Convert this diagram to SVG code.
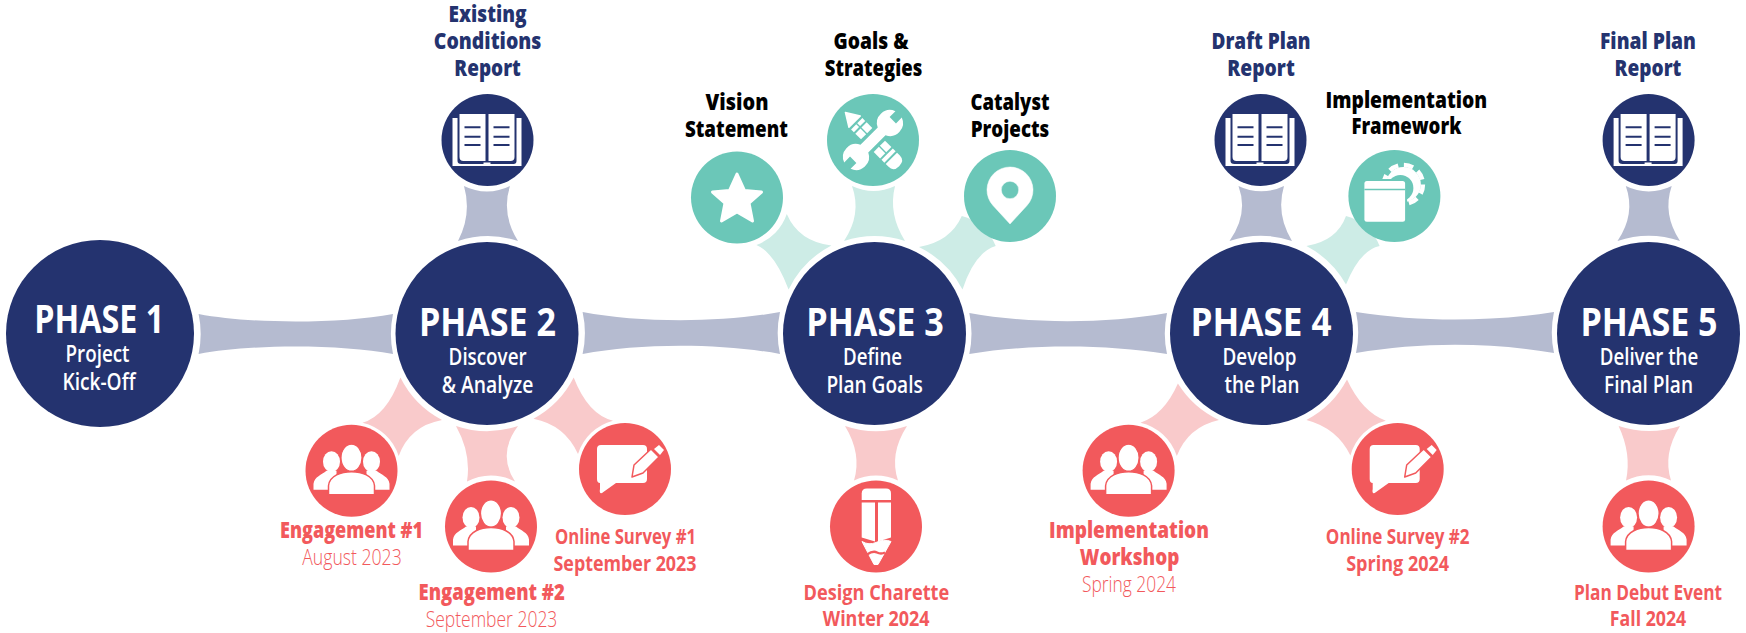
<svg xmlns="http://www.w3.org/2000/svg" xmlns:xlink="http://www.w3.org/1999/xlink" width="1746" height="633" viewBox="0 0 1746 633">
<style>
text{font-family:"Open Sans","Noto Sans","Liberation Sans",sans-serif;text-anchor:middle}
.t{font-size:39px;font-weight:700;fill:#fff}
.s{font-size:23px;font-weight:600;fill:#fff}
.h{font-size:22px;font-weight:800}
.m{font-size:22px;font-weight:700}
.l{font-size:22px;font-weight:300}
.navy{fill:#24336f}.coral{fill:#f2595c}.teal{fill:#6bc7b8}.k{fill:#000}
.cg{fill:#b5bbd0}.cp{fill:#f9cacb}.ct{fill:#cdece6}
</style>
<defs>
<g id="book">
<path d="M-35,-22H-30V21Q-30,24 -26,24H-2V26H-4V22.500H3V26H1V24H26Q29,24 29,21V-22H34V26H-35Z" fill="#fff"/>
<path d="M-28,-26H-2V21H-24Q-28,21 -28,17Z M1,-26H27V17Q27,21 23,21H1Z" fill="#fff"/>
<path d="M-23,-12.700H-7M-23,-3.300H-7M-23,5H-7M6,-12.700H22M6,-3.300H22M6,5H22" stroke="#24336f" stroke-width="2" fill="none"/>
</g>
<g id="people" fill="#fff">
<ellipse cx="-20" cy="-9" rx="8.500" ry="10.500"/><ellipse cx="20" cy="-9" rx="8.500" ry="10.500"/>
<path d="M-38,19V13C-37,6 -30,4 -25,0L-15,0V19Z M38,19V13C37,6 30,4 25,0L15,0V19Z"/>
<ellipse cx="0" cy="-13" rx="10.500" ry="13.500" stroke="#f2595c" stroke-width="1.200"/>
<path d="M-23,24V15C-22,5 -10,1 0,1C10,1 22,5 23,15V24Z" stroke="#f2595c" stroke-width="1.500"/>
</g>
<g id="survey">
<path d="M-24,-24H18Q22,-24 22,-20V10Q22,14 18,14H-9L-23,24Q-26,25 -25,20V14Q-28,14 -28,10V-20Q-28,-24 -24,-24Z" fill="#fff"/>
<path d="M7,8L9,-4L26,-20L34,-12L18,4Z" fill="#fff" stroke="#f2595c" stroke-width="1.500" stroke-linejoin="round"/>
<path d="M29,-20L34,-24L39,-19L35,-14Z" fill="#fff"/>
</g>
</defs>
<rect width="1746" height="633" fill="#fff"/>
<g id="connectors">
<path class="cg" d="M198.600,314C250,324 340,324 393,314A97 97 0 0 0 393,354C340,344 250,344 198.600,354A98 98 0 0 0 198.600,314Z"/>
<path class="cg" d="M582.600,312C640,323 720,323 780,312A97 97 0 0 0 780,354C720,343 640,343 582.600,354A97 97 0 0 0 582.600,312Z"/>
<path class="cg" d="M969.300,313C1030,324 1105,324 1167,313A97 97 0 0 0 1167,354C1105,344 1030,344 969.300,354A97 97 0 0 0 969.300,313Z"/>
<path class="cg" d="M1356,312C1420,322 1490,322 1554,312A97 97 0 0 0 1554,353C1490,342 1420,342 1356,353A97 97 0 0 0 1356,312Z"/>
<path class="cg" d="M464,186A51 51 0 0 0 510,186Q501,214 518,241A97 97 0 0 0 458,241Q472,214 464,186Z"/>
<path class="cg" d="M1238.500,186A51 51 0 0 0 1284,186Q1275.600,214 1292,241A97 97 0 0 0 1229.500,241Q1248.800,214 1238.500,186Z"/>
<path class="cg" d="M1625.800,186A51 51 0 0 0 1671.700,186Q1662.200,214 1680,241A97 97 0 0 0 1617.500,241Q1635.800,214 1625.800,186Z"/>
<path class="ct" d="M852,186A51 51 0 0 0 895,186Q888,214 905,241A97 97 0 0 0 844,241Q862,214 852,186Z"/>
<path class="ct" d="M788.600,289.500A97 97 0 0 1 831.400,245.500Q798.500,241.500 786.800,214A50 50 0 0 1 756.400,245Q774.500,252.500 788.600,289.500Z"/>
<path class="ct" d="M919,247A97 97 0 0 1 962.500,289.500Q974.500,252.500 995.700,246A50 50 0 0 0 961.800,216Q950.500,241.500 919,247Z"/>
<path class="ct" d="M1306.400,246A97 97 0 0 1 1346,284.600Q1360,250 1379.600,246A50 50 0 0 0 1346,216Q1337,241 1306.400,246Z"/>
<path class="cp" d="M400.400,377.500A97 97 0 0 0 442,420Q409.600,426 398.700,456A50 50 0 0 0 362.500,422.700Q386.500,415.900 400.400,377.500Z"/>
<path class="cp" d="M573.700,377.500A97 97 0 0 1 533.500,418.700Q565,425 578,454A50 50 0 0 1 613,420.700Q588,414.500 573.700,377.500Z"/>
<path class="cp" d="M456,426A97 97 0 0 0 518,426Q497,454 515,481.500A51 51 0 0 0 467,481.500Q471.500,454 456,426Z"/>
<path class="cp" d="M845,426A97 97 0 0 0 907,426Q889,454 898,480.500A51 51 0 0 0 854,480.500Q862,454 845,426Z"/>
<path class="cp" d="M1618.600,426A97 97 0 0 0 1680,426Q1662.500,454 1671,480.500A51 51 0 0 0 1626,480.500Q1631.700,454 1618.600,426Z"/>
<path class="cp" d="M1177.900,383.500A97 97 0 0 0 1219,420Q1188,427 1176.800,456A50 50 0 0 0 1140.400,422.700Q1164,415 1177.900,383.500Z"/>
<path class="cp" d="M1347,379.500A97 97 0 0 1 1306.400,420Q1337,428 1350.400,455.400A50 50 0 0 1 1385.800,420.700Q1362,412 1347,379.500Z"/>
</g>
<g id="phase-1"><ellipse class="navy" cx="100" cy="333.500" rx="94" ry="93.500"/>
<text class="t" x="99.300" y="333" textLength="130" lengthAdjust="spacingAndGlyphs">PHASE 1</text>
<text class="s" x="97.500" y="362" textLength="64" lengthAdjust="spacingAndGlyphs">Project</text>
<text class="s" x="99" y="389.500" textLength="73" lengthAdjust="spacingAndGlyphs">Kick-Off</text></g>
<g id="phase-2"><circle class="navy" cx="487" cy="333.500" r="91.500"/>
<text class="t" x="487.400" y="336" textLength="137" lengthAdjust="spacingAndGlyphs">PHASE 2</text>
<text class="s" x="487.600" y="365" textLength="78" lengthAdjust="spacingAndGlyphs">Discover</text>
<text class="s" x="487.500" y="392.500" textLength="91.500" lengthAdjust="spacingAndGlyphs">&amp; Analyze</text></g>
<g id="phase-3"><circle class="navy" cx="874.500" cy="333.500" r="91.500"/>
<text class="t" x="875" y="336" textLength="137.500" lengthAdjust="spacingAndGlyphs">PHASE 3</text>
<text class="s" x="872.500" y="365" textLength="59" lengthAdjust="spacingAndGlyphs">Define</text>
<text class="s" x="874.600" y="392.500" textLength="96.400" lengthAdjust="spacingAndGlyphs">Plan Goals</text></g>
<g id="phase-4"><circle class="navy" cx="1261.500" cy="333.500" r="91.500"/>
<text class="t" x="1261" y="336" textLength="141" lengthAdjust="spacingAndGlyphs">PHASE 4</text>
<text class="s" x="1259.500" y="365" textLength="74" lengthAdjust="spacingAndGlyphs">Develop</text>
<text class="s" x="1262" y="392.500" textLength="75" lengthAdjust="spacingAndGlyphs">the Plan</text></g>
<g id="phase-5"><circle class="navy" cx="1648.500" cy="333.500" r="91.500"/>
<text class="t" x="1649" y="336" textLength="137" lengthAdjust="spacingAndGlyphs">PHASE 5</text>
<text class="s" x="1649" y="365" textLength="98.500" lengthAdjust="spacingAndGlyphs">Deliver the</text>
<text class="s" x="1648.500" y="392.500" textLength="89" lengthAdjust="spacingAndGlyphs">Final Plan</text></g>

<g id="existing-conditions"><circle class="navy" cx="487.500" cy="140" r="46"/><use href="#book" x="487.500" y="140"/>
<text class="h navy" x="487.600" y="22" textLength="78" lengthAdjust="spacingAndGlyphs">Existing</text>
<text class="h navy" x="487.600" y="49.300" textLength="107.600" lengthAdjust="spacingAndGlyphs">Conditions</text>
<text class="h navy" x="487.600" y="76" textLength="66.500" lengthAdjust="spacingAndGlyphs">Report</text></g>
<g id="draft-plan"><circle class="navy" cx="1260.500" cy="140" r="46"/><use href="#book" x="1260.500" y="140"/>
<text class="h navy" x="1261" y="49.300" textLength="99" lengthAdjust="spacingAndGlyphs">Draft Plan</text>
<text class="h navy" x="1261" y="76" textLength="67.500" lengthAdjust="spacingAndGlyphs">Report</text></g>
<g id="final-plan"><circle class="navy" cx="1648.600" cy="140" r="46"/><use href="#book" x="1648.600" y="140"/>
<text class="h navy" x="1648" y="49.300" textLength="96" lengthAdjust="spacingAndGlyphs">Final Plan</text>
<text class="h navy" x="1648" y="76" textLength="66.800" lengthAdjust="spacingAndGlyphs">Report</text></g>

<g id="vision"><circle class="teal" cx="737" cy="197.500" r="46"/>
<path transform="translate(737 197.500)" d="M0,-23.500L7.500,-7L24.500,-5.500L12,5.500L15.500,23.500L0,14.500L-15.500,23.500L-12,5.500L-24.500,-5.500L-7.500,-7Z" fill="#fff" stroke="#fff" stroke-width="3" stroke-linejoin="round"/>
<text class="h k" x="737" y="110" textLength="63" lengthAdjust="spacingAndGlyphs">Vision</text>
<text class="h k" x="736.400" y="136.500" textLength="103" lengthAdjust="spacingAndGlyphs">Statement</text></g>
<g id="goals"><circle class="teal" cx="873" cy="140" r="46"/>
<g transform="translate(873 140) rotate(45)" fill="#fff">
<path d="M-39,0L-26,-8V8Z" stroke="#fff" stroke-linejoin="round" stroke-width="1.500"/>
<rect x="-23" y="-8" width="4" height="7.300"/><rect x="-23" y="0.700" width="4" height="7.300"/>
<rect x="-17" y="-8" width="8" height="7.300"/><rect x="-17" y="0.700" width="8" height="7.300"/>
<rect x="9" y="-8" width="9" height="7.300"/><rect x="9" y="0.700" width="9" height="7.300"/>
<rect x="20" y="-8" width="4" height="16"/>
<path d="M26,-8H30Q37,-8 37,0Q37,8 30,8H26Z"/>
</g>
<path transform="translate(873 140) rotate(-45)" d="M12.200,-5.500A13 13 0 0 1 36.200,-4.500L28,-4.500V4.500H36.200A13 13 0 0 1 12.200,5.500H-12.200A13 13 0 0 1 -36.200,4.500H-28V-4.500H-36.200A13 13 0 0 1 -12.200,-5.500Z" fill="#fff" stroke="#6bc7b8" stroke-width="3" paint-order="stroke"/>
<text class="h k" x="871" y="49.300" textLength="75" lengthAdjust="spacingAndGlyphs">Goals &amp;</text>
<text class="h k" x="873.500" y="76" textLength="97.500" lengthAdjust="spacingAndGlyphs">Strategies</text></g>
<g id="catalyst"><circle class="teal" cx="1010" cy="196" r="46"/>
<path transform="translate(1010 196)" d="M0,28L-17,9.500A23 23 0 1 1 17,9.500ZM0,-14.700A8.700 8.700 0 1 0 0,2.700A8.700 8.700 0 1 0 0,-14.700Z" fill="#fff" fill-rule="evenodd" stroke="#fff" stroke-width="0.500"/>
<text class="h k" x="1010" y="110" textLength="79" lengthAdjust="spacingAndGlyphs">Catalyst</text>
<text class="h k" x="1010" y="136.500" textLength="78.600" lengthAdjust="spacingAndGlyphs">Projects</text></g>
<g id="framework"><circle class="teal" cx="1394.400" cy="196" r="46"/>
<g transform="translate(1394.400 196)">
<circle cx="9" cy="-11.500" r="17.500" fill="#fff"/>
<circle cx="9" cy="-11.500" r="19.500" fill="none" stroke="#fff" stroke-width="4.500" stroke-dasharray="9.500 5.800" stroke-linejoin="round"/>
<circle cx="6" cy="-8" r="13" fill="#6bc7b8"/>
<rect x="-30" y="-15" width="40.700" height="40.700" rx="2.500" fill="#fff" stroke="#6bc7b8" stroke-width="4" paint-order="stroke"/>
<path d="M-30,-6.500H10.700" stroke="#6bc7b8" stroke-width="1.500"/>
</g>
<text class="h k" x="1406.400" y="108" textLength="161.700" lengthAdjust="spacingAndGlyphs">Implementation</text>
<text class="h k" x="1406.400" y="134.400" textLength="110" lengthAdjust="spacingAndGlyphs">Framework</text></g>

<g id="engagement-1"><circle class="coral" cx="351.500" cy="470.700" r="46"/><use href="#people" x="351.500" y="470.700"/>
<text class="h coral" x="351.500" y="538" textLength="143" lengthAdjust="spacingAndGlyphs">Engagement #1</text>
<text class="l coral" x="352" y="565" textLength="99.500" lengthAdjust="spacingAndGlyphs">August 2023</text></g>
<g id="engagement-2"><circle class="coral" cx="491" cy="526.500" r="46"/><use href="#people" x="491" y="526.500"/>
<text class="h coral" x="491.700" y="600.300" textLength="146.400" lengthAdjust="spacingAndGlyphs">Engagement #2</text>
<text class="l coral" x="491.500" y="627" textLength="131.700" lengthAdjust="spacingAndGlyphs">September 2023</text></g>
<g id="survey-1"><circle class="coral" cx="625" cy="469" r="46"/><use href="#survey" x="625" y="469"/>
<text class="m coral" x="625.500" y="544" textLength="141" lengthAdjust="spacingAndGlyphs">Online Survey #1</text>
<text class="m coral" x="625" y="570.500" textLength="143" lengthAdjust="spacingAndGlyphs">September 2023</text></g>
<g id="design-charette"><circle class="coral" cx="876" cy="526.500" r="46"/>
<g transform="translate(876 526.500)">
<path d="M-14.300,-26.500V-33Q-14.300,-38 -9,-38H10Q15,-38 15,-33V-26.500Z" fill="#fff"/>
<path d="M-14.300,-24H-1V15L-14.300,11ZM2,-24H15V11L2,15Z" fill="#fff"/>
<path d="M-14,15Q-7,19 0,16Q8,12 15,15L2,38H-2Z" fill="#fff" stroke="#fff" stroke-linejoin="round"/>
<path d="M-9,28Q-3,24 1,26Q5,28 9,26" fill="none" stroke="#f2595c" stroke-width="2.500"/>
</g>
<text class="m coral" x="876.400" y="600" textLength="145.700" lengthAdjust="spacingAndGlyphs">Design Charette</text>
<text class="m coral" x="876.200" y="626" textLength="106.800" lengthAdjust="spacingAndGlyphs">Winter 2024</text></g>
<g id="implementation-workshop"><circle class="coral" cx="1128.600" cy="470.700" r="46"/><use href="#people" x="1128.600" y="470.700"/>
<text class="h coral" x="1129" y="538" textLength="160" lengthAdjust="spacingAndGlyphs">Implementation</text>
<text class="h coral" x="1129.600" y="565" textLength="99.600" lengthAdjust="spacingAndGlyphs">Workshop</text>
<text class="l coral" x="1129" y="591.500" textLength="94" lengthAdjust="spacingAndGlyphs">Spring 2024</text></g>
<g id="survey-2"><circle class="coral" cx="1397.700" cy="469" r="46"/><use href="#survey" x="1397.700" y="469"/>
<text class="m coral" x="1397.700" y="544" textLength="143.700" lengthAdjust="spacingAndGlyphs">Online Survey #2</text>
<text class="m coral" x="1397.700" y="570.500" textLength="103" lengthAdjust="spacingAndGlyphs">Spring 2024</text></g>
<g id="plan-debut"><circle class="coral" cx="1648.600" cy="526.500" r="46"/><use href="#people" x="1648.600" y="526.500"/>
<text class="m coral" x="1648" y="600" textLength="148" lengthAdjust="spacingAndGlyphs">Plan Debut Event</text>
<text class="m coral" x="1648" y="626" textLength="76.500" lengthAdjust="spacingAndGlyphs">Fall 2024</text></g>
</svg>
